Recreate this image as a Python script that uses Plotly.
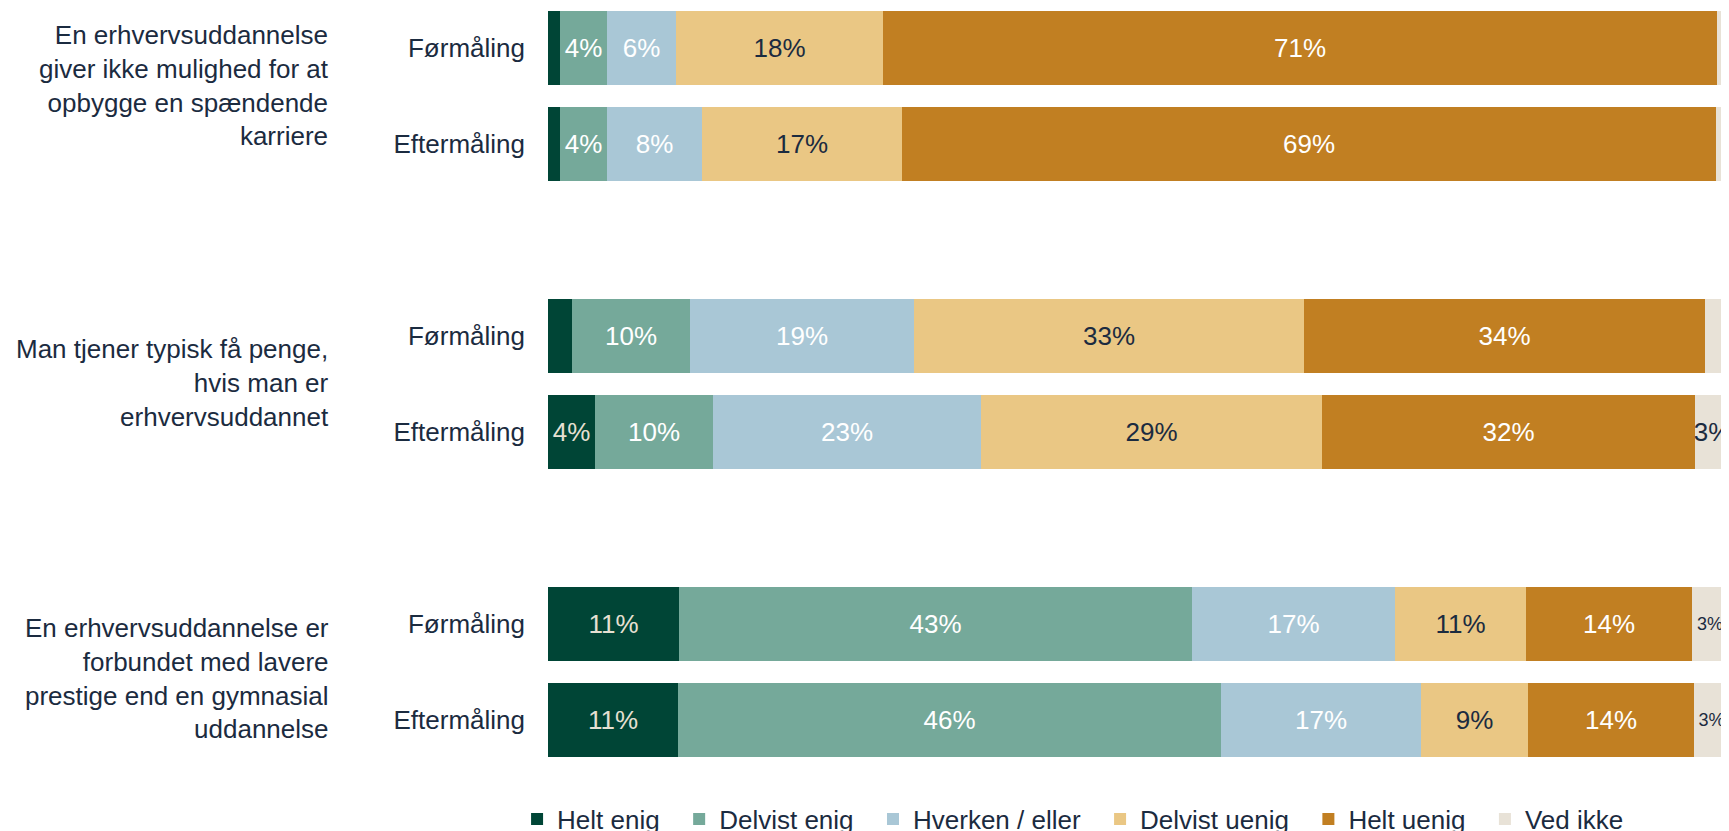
import plotly.graph_objects as go

# ---- data ----
rows = ["Førmåling", "Eftermåling", "Førmåling", "Eftermåling", "Førmåling", "Eftermåling"]
row_pos = [0, 1, 3, 4, 6, 7]
questions = [
    "En erhvervsuddannelse<br>giver ikke mulighed for at<br>opbygge en spændende<br>karriere",
    "Man tjener typisk få penge,<br>hvis man er<br>erhvervsuddannet",
    "En erhvervsuddannelse er<br>forbundet med lavere<br>prestige end en gymnasial<br>uddannelse",
]
question_pos = [0.5, 3.5, 6.5]

series_names = ["Helt enig", "Delvist enig", "Hverken / eller", "Delvist uenig", "Helt uenig", "Ved ikke"]
helt_enig = [1.0, 1.0, 2.0, 4.0, 11.1, 11.0]
delvist_enig = [4.0, 4.0, 10.0, 10.0, 43.4, 46.0]
hverken = [5.8, 8.0, 19.0, 22.7, 17.2, 16.9]
delvist_uenig = [17.6, 17.0, 33.0, 28.8, 11.1, 9.1]
helt_uenig = [70.6, 68.9, 34.0, 31.6, 14.1, 14.0]
ved_ikke = [1.0, 1.0, 2.0, 3.0, 3.0, 3.0]
series_values = [helt_enig, delvist_enig, hverken, delvist_uenig, helt_uenig, ved_ikke]

# ---- style ----
colors = ["#004536", "#75A99A", "#A9C7D6", "#EAC784", "#C17F22", "#E8E2D7"]
text_colors = ["#E6E0D2", "#FFFFFF", "#FFFFFF", "#1B2B40", "#FFFFFF", "#1B2B40"]
text_sizes = [[26] * 6, [26] * 6, [26] * 6, [26] * 6, [26] * 6, [26, 26, 26, 26, 18, 18]]
NAVY = "#1B2B40"
FONT = "Arial, Liberation Sans, sans-serif"
question_yshift = [11, 1, -6]
PAD = "\u00a0\u00a0"

fig = go.Figure()
for name, vals, col, tcol, tsize in zip(series_names, series_values, colors, text_colors, text_sizes):
    labels = [f"{round(v)}%" if v >= 3 else "" for v in vals]
    fig.add_trace(go.Bar(
        y=row_pos, x=vals, name=name + PAD, orientation="h",
        marker=dict(color=col, line=dict(width=0)),
        text=labels, textposition="inside", insidetextanchor="middle",
        constraintext="none", textangle=0,
        textfont=dict(color=tcol, size=tsize, family=FONT),
        width=0.77,
    ))

for q, yp, ys in zip(questions, question_pos, question_yshift):
    fig.add_annotation(
        text=q, xref="paper", yref="y", x=-0.1837, y=yp, yshift=ys,
        xanchor="right", yanchor="middle", align="right", showarrow=False,
        font=dict(size=26, color=NAVY, family=FONT),
    )

fig.update_layout(
    barmode="stack",
    width=1721, height=823,
    margin=dict(l=540, r=0, t=0, b=55, autoexpand=False),
    paper_bgcolor="white", plot_bgcolor="white",
    font=dict(family=FONT, color=NAVY, size=26),
    showlegend=True,
    legend=dict(
        orientation="h", xref="container", x=0.2958, xanchor="left",
        yref="container", y=0.0146, yanchor="middle",
        font=dict(size=26, color=NAVY, family=FONT),
        traceorder="normal", itemwidth=30,
    ),
    bargap=0,
)
fig.update_xaxes(range=[0, 100], visible=False, fixedrange=True)
fig.update_yaxes(
    range=[7.5833, -0.4167], tickvals=row_pos, ticktext=rows,
    showgrid=False, zeroline=False, showline=False,
    tickfont=dict(size=26, color=NAVY, family=FONT),
    ticklabelstandoff=22, fixedrange=True,
)

fig.write_html("out.html")
